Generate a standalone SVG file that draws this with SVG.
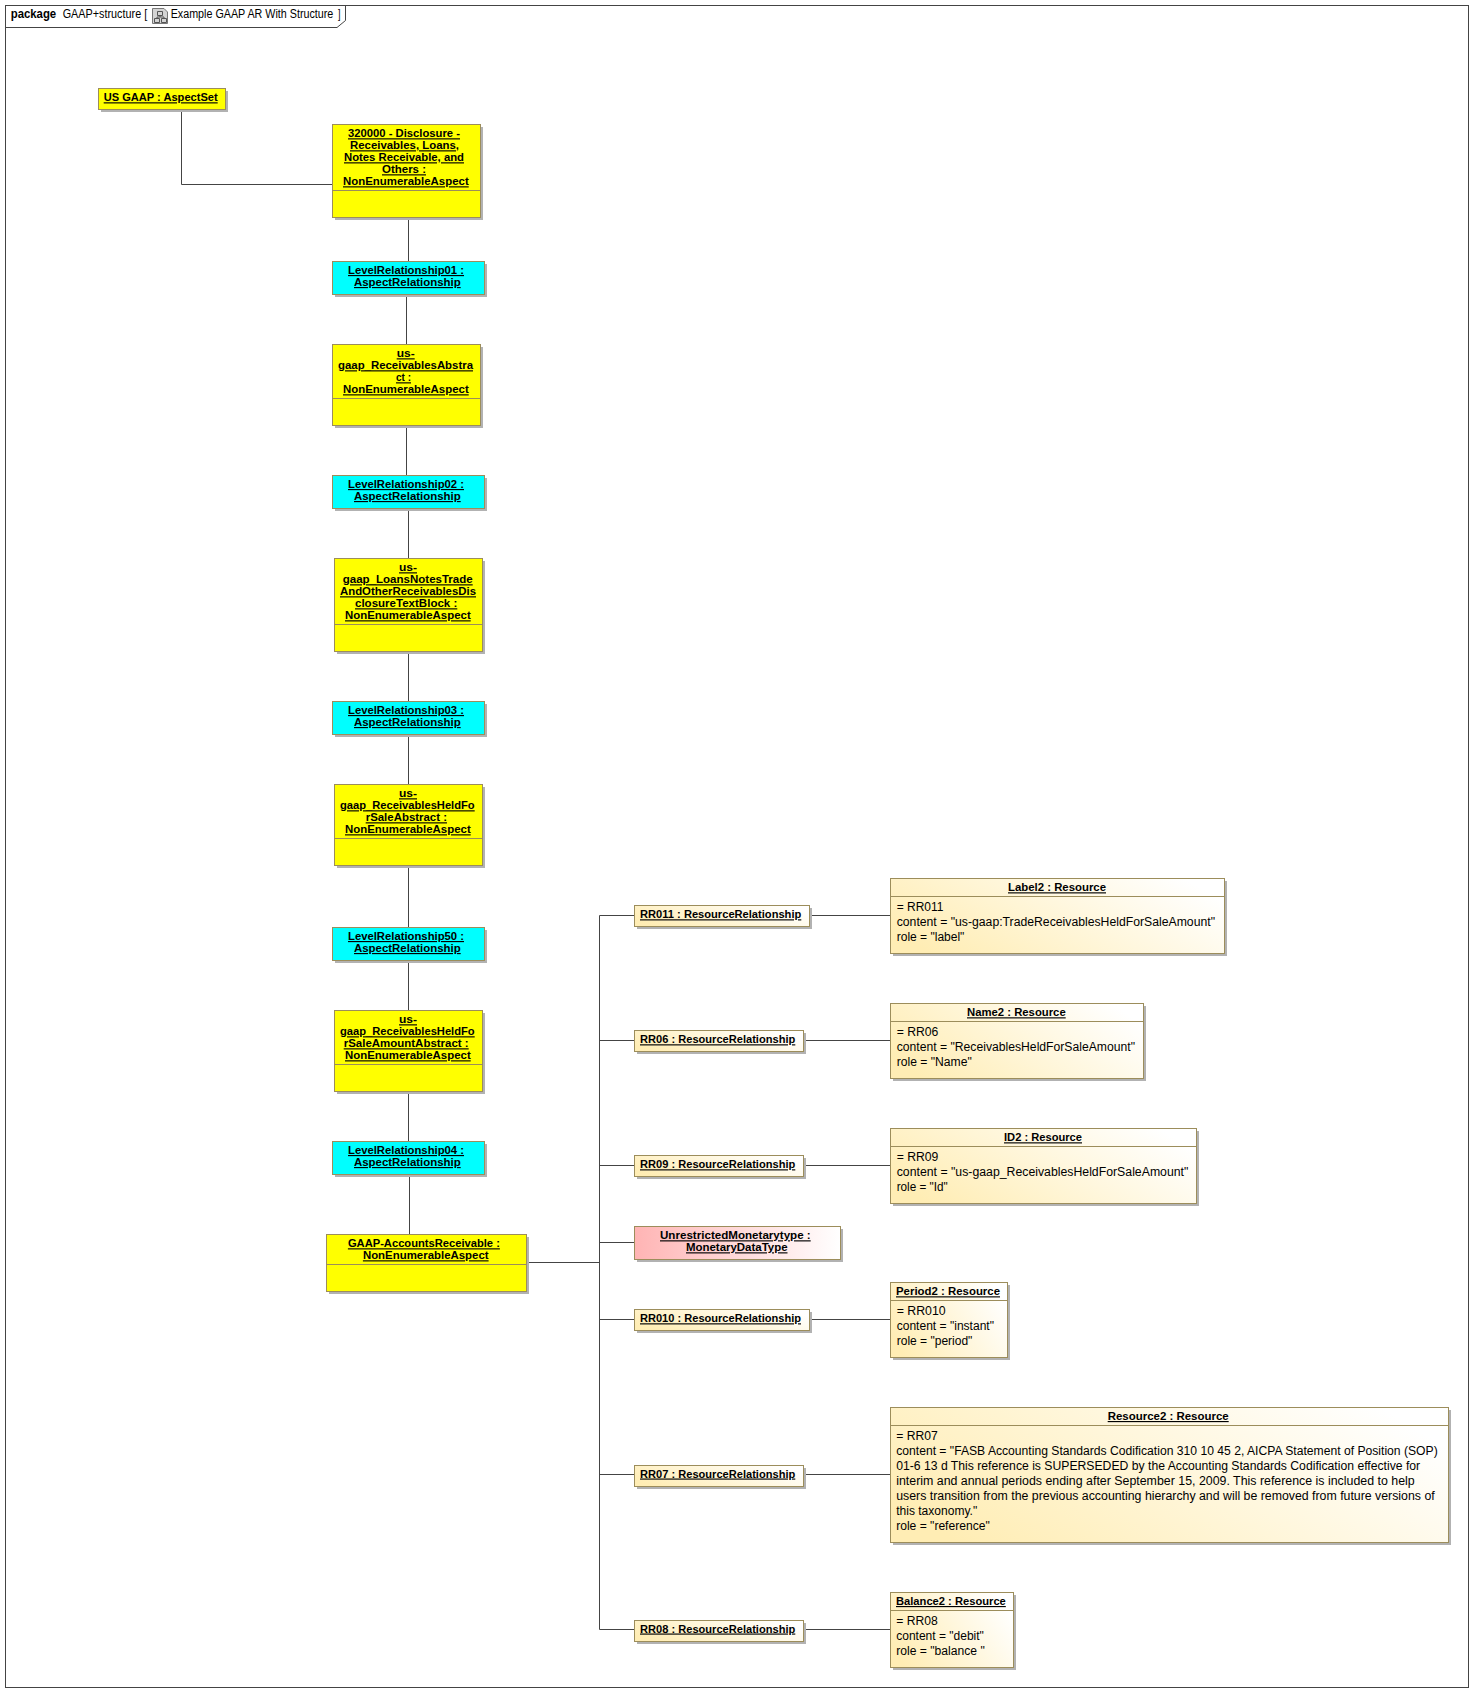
<svg xmlns="http://www.w3.org/2000/svg" width="1483" height="1702" viewBox="0 0 1483 1702">
<style>
text{font-family:"Liberation Sans",Arial,sans-serif;font-size:12px;fill:#000}
.b{font-weight:bold;font-size:11.500px;text-decoration:underline}
.pk{font-weight:bold}
.sh{fill:#b2b2b2}
.box{stroke:#9c8d5b;stroke-width:1}
.y{fill:#ffff00}
.c{fill:#00ffff}
.r{fill:url(#gr)}
.p{fill:url(#gp)}
.div{stroke:#9c8d5b;stroke-width:1;fill:none}
.ln{stroke:#444;stroke-width:1;fill:none}
.fr{stroke:#444;stroke-width:1;fill:none}
</style>
<defs>
<linearGradient id="gr" x1="0" y1="0.700" x2="1" y2="0.300"><stop offset="0" stop-color="#ffedb4"/><stop offset="1" stop-color="#ffffff"/></linearGradient>
<linearGradient id="gp" x1="0" y1="0" x2="1" y2="0"><stop offset="0" stop-color="#ffb4b4"/><stop offset="1" stop-color="#ffffff"/></linearGradient>
</defs>
<rect width="1483" height="1702" fill="#fff"/>
<g id="frame">
<rect class="fr" x="5.500" y="5.500" width="1463" height="1682"/>
<path class="fr" d="M5.500 27.500H337L345.500 20.500V5.500"/>
<text class="pk" x="10.700" y="18" textLength="45.500" lengthAdjust="spacingAndGlyphs">package</text>
<text x="62.700" y="18" textLength="84.500" lengthAdjust="spacingAndGlyphs">GAAP+structure [</text>
<g id="diagram-icon">
<path d="M152.500 8.500H164L167.500 12V23.500H152.500Z" fill="#d4d4d4" stroke="#777"/>
<path d="M157.500 11.500h5v4h-5zM154.500 18.500h5v4h-5zM161.500 18.500h5v4h-5zM160 15.500v1.500M157 17H164V18.500M157 17V18.500" fill="none" stroke="#555"/>
</g>
<text x="170.700" y="18" textLength="162.600" lengthAdjust="spacingAndGlyphs">Example GAAP AR With Structure</text>
<text x="338" y="18" textLength="2.500" lengthAdjust="spacingAndGlyphs">]</text>
</g>
<g id="connectors">
<path class="ln" d="M181.500 109V184.500H332"/>
<path class="ln" d="M408.500 218V261"/>
<path class="ln" d="M406.500 295V344"/>
<path class="ln" d="M406.500 426V475"/>
<path class="ln" d="M408.500 509V558"/>
<path class="ln" d="M408.500 652V701"/>
<path class="ln" d="M408.500 735V784"/>
<path class="ln" d="M408.500 866V927"/>
<path class="ln" d="M408.500 961V1010"/>
<path class="ln" d="M408.500 1092V1141"/>
<path class="ln" d="M409.500 1175V1234"/>
<path class="ln" d="M527 1262.500H599.500"/>
<path class="ln" d="M599.500 915.500V1629.500"/>
<path class="ln" d="M599.500 915.500H634M810 915.500H890"/>
<path class="ln" d="M599.500 1040.500H634M804 1040.500H890"/>
<path class="ln" d="M599.500 1165.500H634M804 1165.500H890"/>
<path class="ln" d="M599.500 1242.500H634"/>
<path class="ln" d="M599.500 1319.500H634M810 1319.500H890"/>
<path class="ln" d="M599.500 1474.500H634M804 1474.500H890"/>
<path class="ln" d="M599.500 1629.500H634M804 1629.500H890"/>
</g>
<g id="us-gaap">
<rect class="sh" x="101" y="91" width="127" height="21"/><rect class="box y" x="98.500" y="88.500" width="127" height="21"/>
<text class="b" x="103.700" y="101.300" textLength="114" lengthAdjust="spacingAndGlyphs">US GAAP : AspectSet</text>
</g>
<g id="disclosure-320000">
<rect class="sh" x="335" y="127" width="148" height="93"/><rect class="box y" x="332.500" y="124.500" width="148" height="93"/>
<path class="div" d="M332.500 190.500H480.500"/>
<text class="b" x="348" y="137.300" textLength="112" lengthAdjust="spacingAndGlyphs">320000 - Disclosure -</text>
<text class="b" x="350" y="149.300" textLength="109" lengthAdjust="spacingAndGlyphs">Receivables, Loans,</text>
<text class="b" x="344" y="161.300" textLength="120" lengthAdjust="spacingAndGlyphs">Notes Receivable, and</text>
<text class="b" x="382" y="173.300" textLength="44" lengthAdjust="spacingAndGlyphs">Others :</text>
<text class="b" x="343" y="185.300" textLength="125.700" lengthAdjust="spacingAndGlyphs">NonEnumerableAspect</text>
</g>
<g id="level-relationship-01">
<rect class="sh" x="335" y="264" width="152" height="33"/><rect class="box c" x="332.500" y="261.500" width="152" height="33"/>
<text class="b" x="348" y="274" textLength="116" lengthAdjust="spacingAndGlyphs">LevelRelationship01 :</text>
<text class="b" x="354" y="286" textLength="106.700" lengthAdjust="spacingAndGlyphs">AspectRelationship</text>
</g>
<g id="receivables-abstract">
<rect class="sh" x="335" y="347" width="148" height="81"/><rect class="box y" x="332.500" y="344.500" width="148" height="81"/>
<path class="div" d="M332.500 398.500H480.500"/>
<text class="b" x="396.700" y="357.300" textLength="18" lengthAdjust="spacingAndGlyphs">us-</text>
<text class="b" x="338" y="369.300" textLength="135" lengthAdjust="spacingAndGlyphs">gaap_ReceivablesAbstra</text>
<text class="b" x="396" y="381.300" textLength="15" lengthAdjust="spacingAndGlyphs">ct :</text>
<text class="b" x="343" y="393.300" textLength="125.700" lengthAdjust="spacingAndGlyphs">NonEnumerableAspect</text>
</g>
<g id="level-relationship-02">
<rect class="sh" x="335" y="478" width="152" height="33"/><rect class="box c" x="332.500" y="475.500" width="152" height="33"/>
<text class="b" x="348" y="488" textLength="116" lengthAdjust="spacingAndGlyphs">LevelRelationship02 :</text>
<text class="b" x="354" y="500" textLength="106.700" lengthAdjust="spacingAndGlyphs">AspectRelationship</text>
</g>
<g id="loans-notes">
<rect class="sh" x="337" y="561" width="148" height="93"/><rect class="box y" x="334.500" y="558.500" width="148" height="93"/>
<path class="div" d="M334.500 624.500H482.500"/>
<text class="b" x="399" y="571.300" textLength="18" lengthAdjust="spacingAndGlyphs">us-</text>
<text class="b" x="342.700" y="583.300" textLength="130" lengthAdjust="spacingAndGlyphs">gaap_LoansNotesTrade</text>
<text class="b" x="340" y="595.300" textLength="136" lengthAdjust="spacingAndGlyphs">AndOtherReceivablesDis</text>
<text class="b" x="355" y="607.300" textLength="102.300" lengthAdjust="spacingAndGlyphs">closureTextBlock :</text>
<text class="b" x="345" y="619.300" textLength="125.700" lengthAdjust="spacingAndGlyphs">NonEnumerableAspect</text>
</g>
<g id="level-relationship-03">
<rect class="sh" x="335" y="704" width="152" height="33"/><rect class="box c" x="332.500" y="701.500" width="152" height="33"/>
<text class="b" x="348" y="714" textLength="116" lengthAdjust="spacingAndGlyphs">LevelRelationship03 :</text>
<text class="b" x="354" y="726" textLength="106.700" lengthAdjust="spacingAndGlyphs">AspectRelationship</text>
</g>
<g id="held-for-sale-abstract">
<rect class="sh" x="337" y="787" width="148" height="81"/><rect class="box y" x="334.500" y="784.500" width="148" height="81"/>
<path class="div" d="M334.500 838.500H482.500"/>
<text class="b" x="399" y="797.300" textLength="18" lengthAdjust="spacingAndGlyphs">us-</text>
<text class="b" x="340" y="809.300" textLength="134.700" lengthAdjust="spacingAndGlyphs">gaap_ReceivablesHeldFo</text>
<text class="b" x="365.700" y="821.300" textLength="81.300" lengthAdjust="spacingAndGlyphs">rSaleAbstract :</text>
<text class="b" x="345" y="833.300" textLength="125.700" lengthAdjust="spacingAndGlyphs">NonEnumerableAspect</text>
</g>
<g id="level-relationship-50">
<rect class="sh" x="335" y="930" width="152" height="33"/><rect class="box c" x="332.500" y="927.500" width="152" height="33"/>
<text class="b" x="348" y="940" textLength="116" lengthAdjust="spacingAndGlyphs">LevelRelationship50 :</text>
<text class="b" x="354" y="952" textLength="106.700" lengthAdjust="spacingAndGlyphs">AspectRelationship</text>
</g>
<g id="held-for-sale-amount-abstract">
<rect class="sh" x="337" y="1013" width="148" height="81"/><rect class="box y" x="334.500" y="1010.500" width="148" height="81"/>
<path class="div" d="M334.500 1064.500H482.500"/>
<text class="b" x="399" y="1023.300" textLength="18" lengthAdjust="spacingAndGlyphs">us-</text>
<text class="b" x="340" y="1035.300" textLength="134.700" lengthAdjust="spacingAndGlyphs">gaap_ReceivablesHeldFo</text>
<text class="b" x="343.700" y="1047.300" textLength="125" lengthAdjust="spacingAndGlyphs">rSaleAmountAbstract :</text>
<text class="b" x="345" y="1059.300" textLength="125.700" lengthAdjust="spacingAndGlyphs">NonEnumerableAspect</text>
</g>
<g id="level-relationship-04">
<rect class="sh" x="335" y="1144" width="152" height="33"/><rect class="box c" x="332.500" y="1141.500" width="152" height="33"/>
<text class="b" x="348" y="1154" textLength="116" lengthAdjust="spacingAndGlyphs">LevelRelationship04 :</text>
<text class="b" x="354" y="1166" textLength="106.700" lengthAdjust="spacingAndGlyphs">AspectRelationship</text>
</g>
<g id="gaap-accounts-receivable">
<rect class="sh" x="329" y="1237" width="200" height="57"/><rect class="box y" x="326.500" y="1234.500" width="200" height="57"/>
<path class="div" d="M326.500 1264.500H526.500"/>
<text class="b" x="347.900" y="1247.300" textLength="152" lengthAdjust="spacingAndGlyphs">GAAP-AccountsReceivable :</text>
<text class="b" x="362.900" y="1259.300" textLength="125.700" lengthAdjust="spacingAndGlyphs">NonEnumerableAspect</text>
</g>
<g id="rr011">
<rect class="sh" x="637" y="908" width="175" height="21"/><rect class="box r" x="634.500" y="905.500" width="175" height="21"/>
<text class="b" x="640" y="918.300" textLength="161.300" lengthAdjust="spacingAndGlyphs">RR011 : ResourceRelationship</text>
</g>
<g id="rr06">
<rect class="sh" x="637" y="1033" width="169" height="21"/><rect class="box r" x="634.500" y="1030.500" width="169" height="21"/>
<text class="b" x="640" y="1043.300" textLength="155.300" lengthAdjust="spacingAndGlyphs">RR06 : ResourceRelationship</text>
</g>
<g id="rr09">
<rect class="sh" x="637" y="1158" width="169" height="21"/><rect class="box r" x="634.500" y="1155.500" width="169" height="21"/>
<text class="b" x="640" y="1168.300" textLength="155.300" lengthAdjust="spacingAndGlyphs">RR09 : ResourceRelationship</text>
</g>
<g id="unrestricted-monetary-type">
<rect class="sh" x="637" y="1229" width="206" height="33"/><rect class="box p" x="634.500" y="1226.500" width="206" height="33"/>
<text class="b" x="660" y="1239.300" textLength="150.700" lengthAdjust="spacingAndGlyphs">UnrestrictedMonetarytype :</text>
<text class="b" x="686" y="1251.300" textLength="101.500" lengthAdjust="spacingAndGlyphs">MonetaryDataType</text>
</g>
<g id="rr010">
<rect class="sh" x="637" y="1312" width="175" height="21"/><rect class="box r" x="634.500" y="1309.500" width="175" height="21"/>
<text class="b" x="640" y="1322.300" textLength="161" lengthAdjust="spacingAndGlyphs">RR010 : ResourceRelationship</text>
</g>
<g id="rr07">
<rect class="sh" x="637" y="1468" width="169" height="21"/><rect class="box r" x="634.500" y="1465.500" width="169" height="21"/>
<text class="b" x="640" y="1477.500" textLength="155.300" lengthAdjust="spacingAndGlyphs">RR07 : ResourceRelationship</text>
</g>
<g id="rr08">
<rect class="sh" x="637" y="1623" width="169" height="21"/><rect class="box r" x="634.500" y="1620.500" width="169" height="21"/>
<text class="b" x="640" y="1632.500" textLength="155.300" lengthAdjust="spacingAndGlyphs">RR08 : ResourceRelationship</text>
</g>
<g id="label2">
<rect class="sh" x="893" y="881" width="334" height="75"/><rect class="box r" x="890.500" y="878.500" width="334" height="75"/>
<path class="div" d="M890.500 896.500H1224.500"/>
<text class="b" x="1008" y="891.300" textLength="98" lengthAdjust="spacingAndGlyphs">Label2 : Resource</text>
<text x="896.700" y="911" textLength="46.700" lengthAdjust="spacingAndGlyphs">= RR011</text>
<text x="896.700" y="926" textLength="318.300" lengthAdjust="spacingAndGlyphs">content = "us-gaap:TradeReceivablesHeldForSaleAmount"</text>
<text x="896.700" y="941" textLength="67.700" lengthAdjust="spacingAndGlyphs">role = "label"</text>
</g>
<g id="name2">
<rect class="sh" x="893" y="1006" width="253" height="75"/><rect class="box r" x="890.500" y="1003.500" width="253" height="75"/>
<path class="div" d="M890.500 1021.500H1143.500"/>
<text class="b" x="967" y="1016.300" textLength="98.700" lengthAdjust="spacingAndGlyphs">Name2 : Resource</text>
<text x="896.700" y="1036" textLength="41.700" lengthAdjust="spacingAndGlyphs">= RR06</text>
<text x="896.700" y="1051" textLength="238.300" lengthAdjust="spacingAndGlyphs">content = "ReceivablesHeldForSaleAmount"</text>
<text x="896.700" y="1066" textLength="75" lengthAdjust="spacingAndGlyphs">role = "Name"</text>
</g>
<g id="id2">
<rect class="sh" x="893" y="1131" width="306" height="75"/><rect class="box r" x="890.500" y="1128.500" width="306" height="75"/>
<path class="div" d="M890.500 1146.500H1196.500"/>
<text class="b" x="1004" y="1141.300" textLength="78" lengthAdjust="spacingAndGlyphs">ID2 : Resource</text>
<text x="896.700" y="1161" textLength="41.700" lengthAdjust="spacingAndGlyphs">= RR09</text>
<text x="896.700" y="1176" textLength="291.700" lengthAdjust="spacingAndGlyphs">content = "us-gaap_ReceivablesHeldForSaleAmount"</text>
<text x="896.700" y="1191" textLength="51" lengthAdjust="spacingAndGlyphs">role = "Id"</text>
</g>
<g id="period2">
<rect class="sh" x="893" y="1285" width="117" height="75"/><rect class="box r" x="890.500" y="1282.500" width="117" height="75"/>
<path class="div" d="M890.500 1300.500H1007.500"/>
<text class="b" x="896" y="1295.300" textLength="104" lengthAdjust="spacingAndGlyphs">Period2 : Resource</text>
<text x="896.700" y="1315" textLength="49" lengthAdjust="spacingAndGlyphs">= RR010</text>
<text x="896.700" y="1330" textLength="97.300" lengthAdjust="spacingAndGlyphs">content = "instant"</text>
<text x="896.700" y="1345" textLength="75.700" lengthAdjust="spacingAndGlyphs">role = "period"</text>
</g>
<g id="resource2">
<rect class="sh" x="893" y="1410" width="558" height="135"/><rect class="box r" x="890.500" y="1407.500" width="558" height="135"/>
<path class="div" d="M890.500 1425.500H1448.500"/>
<text class="b" x="1107.700" y="1420" textLength="121" lengthAdjust="spacingAndGlyphs">Resource2 : Resource</text>
<text x="896.200" y="1440" textLength="41.500" lengthAdjust="spacingAndGlyphs">= RR07</text>
<text x="896.200" y="1455" textLength="541.500" lengthAdjust="spacingAndGlyphs">content = "FASB Accounting Standards Codification 310 10 45 2, AICPA Statement of Position (SOP)</text>
<text x="896.200" y="1470" textLength="524" lengthAdjust="spacingAndGlyphs">01-6 13 d This reference is SUPERSEDED by the Accounting Standards Codification effective for</text>
<text x="896.200" y="1485" textLength="518.500" lengthAdjust="spacingAndGlyphs">interim and annual periods ending after September 15, 2009. This reference is included to help</text>
<text x="896.200" y="1500" textLength="538.500" lengthAdjust="spacingAndGlyphs">users transition from the previous accounting hierarchy and will be removed from future versions of</text>
<text x="896.200" y="1515" textLength="81" lengthAdjust="spacingAndGlyphs">this taxonomy."</text>
<text x="896.200" y="1530" textLength="93.500" lengthAdjust="spacingAndGlyphs">role = "reference"</text>
</g>
<g id="balance2">
<rect class="sh" x="893" y="1595" width="123" height="75"/><rect class="box r" x="890.500" y="1592.500" width="123" height="75"/>
<path class="div" d="M890.500 1610.500H1013.500"/>
<text class="b" x="896" y="1605" textLength="109.800" lengthAdjust="spacingAndGlyphs">Balance2 : Resource</text>
<text x="896.200" y="1625" textLength="41.500" lengthAdjust="spacingAndGlyphs">= RR08</text>
<text x="896.200" y="1640" textLength="87.700" lengthAdjust="spacingAndGlyphs">content = "debit"</text>
<text x="896.200" y="1655" textLength="88.500" lengthAdjust="spacingAndGlyphs">role = "balance "</text>
</g>
</svg>
